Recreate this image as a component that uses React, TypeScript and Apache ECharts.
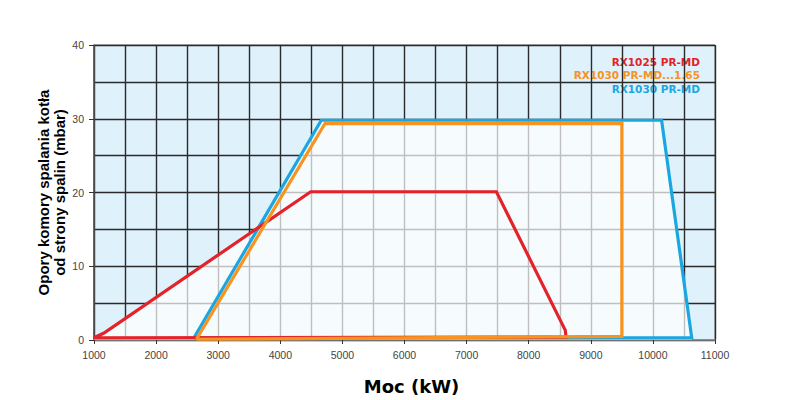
import React, { useEffect, useRef } from "react";
import * as echarts from "echarts";

const xTicks = [1000, 11000];
const yTicks = [0, 40];

const seriesNames = ["RX1025 PR-MD", "RX1030 PR-MD...1.65", "RX1030 PR-MD"];
const seriesColors = ["#e4222a", "#f7931e", "#1aa7e1"];

// RX1025 PR-MD (red) working envelope [kW, mbar]
const redEnvelope: [number, number][] = [
  [1000, 0.3], [1160, 0.95], [4490, 20.1], [7480, 20.1], [8590, 1.3], [8600, 0.4], [1000, 0.3],
];
// RX1030 PR-MD...1.65 (orange)
const orangeEnvelope: [number, number][] = [
  [2650, 0.1], [4720, 29.35], [9500, 29.35], [9500, 0.5], [2650, 0.1],
];
// RX1030 PR-MD (blue)
const blueEnvelope: [number, number][] = [
  [2610, 0.3], [4660, 29.8], [10140, 29.8], [10625, 0.3], [2610, 0.3],
];
// union of all envelopes (light area)
const unionEnvelope: [number, number][] = [
  [1000, 0], [1000, 0.3], [1160, 0.95], [3650, 15.3], [4660, 29.8], [10140, 29.8], [10625, 0.3], [10625, 0],
];

export default function App() {
  const ref = useRef<HTMLDivElement>(null);
  useEffect(() => {
    if (!ref.current) return;
    const chart = echarts.init(ref.current, undefined, { renderer: "svg" });
    const darkGrid = { color: "#2b2b2b", width: 1.4 };
    const lineSeries = (name: string, data: [number, number][], color: string, z: number) => ({
      type: "line",
      name,
      data,
      showSymbol: false,
      symbol: "none",
      lineStyle: { color, width: 3.2, join: "miter" },
      z,
      silent: true,
    });
    chart.setOption({
      animation: false,
      grid: {
        left: 94,
        right: 85,
        top: 45,
        bottom: 60,
        show: true,
        backgroundColor: "#dff1fb",
        borderColor: "#777",
        borderWidth: 1,
      },
      xAxis: {
        type: "value",
        min: xTicks[0],
        max: xTicks[1],
        interval: 1000,
        name: "Moc (kW)",
        nameLocation: "middle",
        nameGap: 37,
        nameMoveOverlap: false,
        nameTextStyle: {
          fontFamily: "DejaVu Sans",
          fontWeight: "bold",
          fontSize: 18,
          color: "#000",
          padding: [0, 0, 0, 14],
        },
        axisLine: { show: true, lineStyle: { color: "#8a8a8a", width: 1.5 } },
        axisTick: { show: true, length: 4, lineStyle: { color: "#333" } },
        axisLabel: {
          color: "#444",
          fontSize: 10.5,
          fontFamily: "Liberation Sans",
          margin: 9,
          formatter: (v: number) => String(v),
        },
        splitLine: { show: true, lineStyle: darkGrid },
        minorTick: { show: false, splitNumber: 2 },
        minorSplitLine: { show: true, lineStyle: darkGrid },
      },
      yAxis: {
        type: "value",
        min: yTicks[0],
        max: yTicks[1],
        interval: 10,
        name: "Opory komory spalania kotła\nod strony spalin (mbar)",
        nameLocation: "middle",
        nameGap: 27,
        nameMoveOverlap: false,
        nameTextStyle: {
          fontFamily: "Liberation Sans",
          fontWeight: "bold",
          fontSize: 15,
          lineHeight: 16,
          color: "#000",
        },
        axisLine: { show: true, lineStyle: { color: "#555", width: 1.5 } },
        axisTick: { show: true, length: 5, lineStyle: { color: "#333" } },
        axisLabel: {
          color: "#444",
          fontSize: 10.5,
          fontFamily: "Liberation Sans",
          margin: 10,
          formatter: (v: number) => String(v),
        },
        splitLine: { show: true, lineStyle: darkGrid },
        minorTick: { show: false, splitNumber: 2 },
        minorSplitLine: { show: true, lineStyle: darkGrid },
      },
      series: [
        {
          type: "custom",
          data: unionEnvelope,
          silent: true,
          z: 1,
          renderItem: (params: any, api: any) => {
            if (params.dataIndex !== 0) return null;
            const pts = unionEnvelope.map((p) => api.coord(p));
            return {
              type: "polygon",
              shape: { points: pts },
              style: { fill: "rgba(255,255,255,0.7)", stroke: "none" },
            };
          },
        },
        lineSeries(seriesNames[2], blueEnvelope, seriesColors[2], 3),
        lineSeries(seriesNames[0], redEnvelope, seriesColors[0], 4),
        lineSeries(seriesNames[1], orangeEnvelope, seriesColors[1], 5),
      ],
      graphic: seriesNames.map((n, i) => ({
        type: "text",
        right: 100,
        top: 56 + i * 13.5,
        style: {
          text: n,
          fill: seriesColors[i],
          font: "bold 10.5px 'DejaVu Sans'",
          textAlign: "right",
        },
      })),
    });
    return () => chart.dispose();
  }, []);
  return (
    <div
      ref={ref}
      style={{ position: "fixed", left: 0, top: 0, width: 800, height: 400, background: "#fff" }}
    />
  );
}
